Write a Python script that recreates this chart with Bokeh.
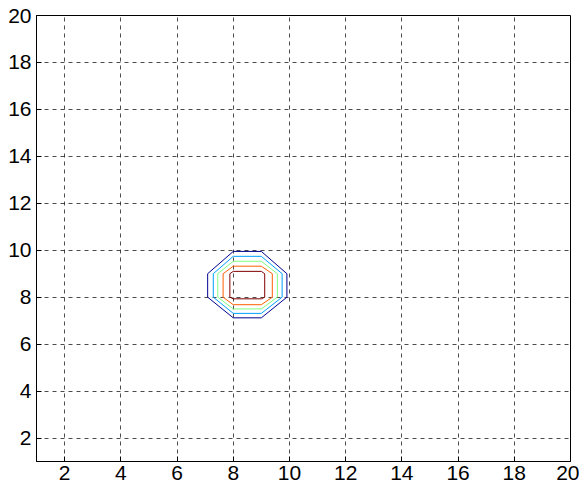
from bokeh.plotting import figure
from bokeh.models import FixedTicker, Range1d
from bokeh.embed import file_html
from bokeh.resources import INLINE

# Contour levels (outer -> inner): octagon extents
level_colors = ["#000090", "#00a0ff", "#80ff80", "#ff6000", "#800000"]
tops = [9.95, 9.74, 9.53, 9.32, 9.10]
bottoms = [7.12, 7.31, 7.50, 7.68, 7.93]
lefts = [7.09, 7.29, 7.45, 7.64, 7.88]
rights = [9.91, 9.74, 9.57, 9.39, 9.12]
# grid lines on which the octagon vertices lie
gx = [8, 9]
gy = [8, 9]

x_ticks = [2, 4, 6, 8, 10, 12, 14, 16, 18, 20]
y_ticks = [2, 4, 6, 8, 10, 12, 14, 16, 18, 20]

p = figure(output_backend="svg", toolbar_location=None,
           frame_width=534, frame_height=446,
           min_border_left=36, min_border_right=9, min_border_top=15, min_border_bottom=21,
           x_range=Range1d(1, 20), y_range=Range1d(1, 20))
p.background_fill_color = "white"
p.border_fill_color = "white"
p.outline_line_color = "black"
p.outline_line_width = 1

for c, t, b, l, r in zip(level_colors, tops, bottoms, lefts, rights):
    xs = [gx[0], gx[1], r, r, gx[1], gx[0], l, l, gx[0]]
    ys = [t, t, gy[1], gy[0], b, b, gy[0], gy[1], t]
    p.line(xs, ys, line_color=c, line_width=1)

for ax in (p.xaxis, p.yaxis):
    ax.major_tick_in = 5
    ax.major_tick_out = 0
    ax.minor_tick_line_color = None
    ax.axis_line_color = "black"
    ax.major_tick_line_color = "black"
    ax.major_label_text_font = "Liberation Sans"
    ax.major_label_text_font_size = "21px"
    ax.major_label_text_color = "black"
p.xaxis.major_label_standoff = 4
p.yaxis.major_label_standoff = 5
p.xaxis.ticker = FixedTicker(ticks=x_ticks)
p.yaxis.ticker = FixedTicker(ticks=y_ticks)

p.xgrid.ticker = FixedTicker(ticks=x_ticks)
p.ygrid.ticker = FixedTicker(ticks=y_ticks)
for g in (p.xgrid, p.ygrid):
    g.grid_line_color = "black"
    g.grid_line_alpha = 0.7
    g.grid_line_dash = "4 4"
    g.grid_line_width = 1

open("out.html", "w").write(file_html(p, INLINE))
